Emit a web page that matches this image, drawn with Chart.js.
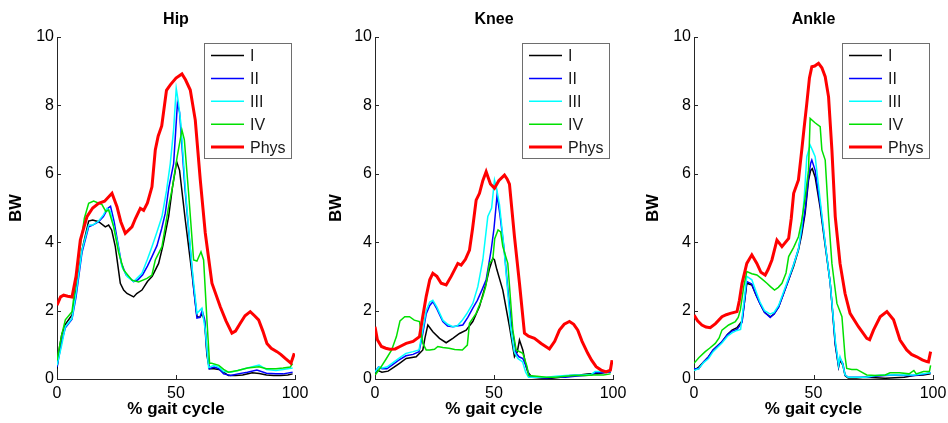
<!DOCTYPE html>
<html><head><meta charset="utf-8">
<script src="https://cdn.jsdelivr.net/npm/chart.js@4.4.1/dist/chart.umd.min.js"></script>
<style>
html,body{margin:0;padding:0;background:#fff;}
#wrap{position:relative;width:948px;height:423px;overflow:hidden;background:#fff;}
canvas{position:absolute;top:0;}
</style></head><body>
<div id="wrap">
<canvas id="c0" width="316" height="423" style="left:0px"></canvas>
<canvas id="c1" width="316" height="423" style="left:316px"></canvas>
<canvas id="c2" width="316" height="423" style="left:632px"></canvas>
</div>
<script>
// ---- categories / ticks ----
const panelTitles = ['Hip','Knee','Ankle'];
const seriesNames = ['I','II','III','IV','Phys'];
const xTicks = [0,50,100];
const yTicks = [0,2,4,6,8,10];

// ---- Hip ([% gait cycle, BW]) ----
const hipI = [[0,0.3],[1,0.9],[2,1.3],[3.5,1.6],[6.3,1.87],[8,2.6],[10.5,3.77],[13.3,4.62],[15,4.65],[17.5,4.6],[20.3,4.45],[21.7,4.5],[23,4.35],[24.5,3.87],[26.6,2.8],[28,2.6],[29.4,2.5],[32.2,2.4],[33.5,2.5],[35.7,2.6],[38,2.85],[40,3.0],[42.7,3.38],[44.5,3.9],[46.9,4.75],[48.5,5.6],[50.3,6.35],[51.5,6.1],[53.9,4.65],[56.7,3.09],[58.8,1.83],[60,1.8],[61,1.9],[62,1.7],[63,0.7],[64,0.3],[66,0.3],[68,0.28],[70,0.2],[72,0.1],[75,0.1],[78,0.12],[82,0.18],[85,0.16],[88,0.12],[91,0.1],[94,0.1],[97,0.12],[99,0.15]];
const hipII = [[0,0.35],[2,1.1],[3.5,1.5],[6.3,1.75],[8,2.4],[10.5,3.7],[13.3,4.45],[15,4.5],[17.5,4.6],[19.5,4.75],[21.5,5.0],[22.5,5.05],[24,4.6],[25.5,4.0],[27,3.4],[29,3.05],[32.2,2.85],[34,2.9],[36,3.05],[38,3.3],[39.9,3.58],[42,3.9],[44,4.4],[45.5,4.85],[47,5.6],[49,6.3],[50.6,8.06],[51.5,7.8],[53.7,5.62],[56,3.8],[57.5,2.6],[58.8,1.78],[60,1.8],[61,2.0],[62,1.75],[63,0.8],[64,0.3],[66,0.35],[68,0.3],[70,0.15],[73,0.1],[76,0.15],[80,0.2],[84,0.26],[88,0.17],[92,0.15],[95,0.15],[99,0.2]];
const hipIII = [[0,0.4],[2,1.0],[3.5,1.53],[6.3,1.77],[8,2.5],[10.5,3.77],[13.3,4.5],[15,4.5],[17.5,4.62],[19.5,4.8],[21,4.99],[22.4,4.9],[25.2,4.06],[27.3,3.28],[29.5,3.0],[32.2,2.85],[35.7,3.09],[38,3.5],[39.9,3.87],[42,4.3],[44.1,4.75],[46,5.5],[47.6,6.3],[49,7.3],[50.1,8.5],[51,8.1],[52,7.5],[54.1,5.4],[56.7,3.28],[58.8,1.92],[60.9,2.07],[62.3,1.43],[63.7,0.34],[66,0.4],[68,0.35],[70,0.22],[73,0.2],[76,0.25],[80,0.32],[84.9,0.41],[88,0.28],[92,0.25],[95,0.28],[99,0.32]];
const hipIV = [[0,0.55],[2,1.3],[3.5,1.73],[6.3,1.97],[8,2.9],[9.8,3.9],[11.5,4.7],[13.3,5.14],[15.4,5.2],[18.9,5.1],[20.5,4.9],[21.7,4.94],[23.8,4.45],[25.9,3.7],[28,3.19],[31.5,2.89],[34.3,2.84],[37.8,2.94],[39.9,3.04],[41.3,3.48],[44.1,3.87],[46.9,5.04],[48.5,5.6],[50.5,6.5],[52.5,7.28],[53.5,7.0],[55.3,5.43],[57.4,3.48],[58.8,3.45],[60.5,3.72],[61.6,3.48],[63,1.72],[64.1,0.46],[65,0.46],[68,0.4],[70,0.28],[72,0.2],[76,0.25],[80,0.32],[84.9,0.36],[88,0.3],[92,0.3],[95,0.32],[98,0.35],[99,0.45]];
const hipPhys = [[0,2.16],[1.5,2.4],[2.8,2.45],[4.5,2.42],[6.3,2.4],[8,3.0],[9.8,4.06],[12.6,4.75],[15,5.0],[17.5,5.14],[20,5.2],[23.1,5.43],[25.2,5.04],[26.8,4.6],[28.7,4.26],[31.5,4.45],[33,4.7],[35,4.99],[36.4,4.93],[38,5.15],[39.9,5.62],[41.3,6.7],[42.5,7.1],[44,7.4],[46,8.44],[47.6,8.6],[50,8.8],[52.5,8.92],[54,8.75],[56,8.45],[58.1,7.57],[60.2,5.82],[62.3,4.27],[65.1,2.8],[68.6,2.11],[71,1.7],[73.5,1.34],[75,1.4],[77,1.63],[79,1.85],[81.2,1.97],[83,1.85],[84.7,1.73],[86.5,1.4],[88.2,1.04],[90,0.9],[92.4,0.8],[94,0.72],[95.9,0.6],[98.3,0.46],[99.7,0.75]];

// ---- Knee ----
const kneeI = [[0,0.15],[0.9,0.26],[2.9,0.2],[5.5,0.23],[8,0.35],[10.3,0.46],[13.1,0.6],[17.3,0.65],[20.1,0.85],[21,1.2],[22.2,1.58],[24.3,1.38],[27.1,1.19],[29.9,1.06],[32.7,1.19],[35.5,1.33],[38.3,1.43],[41.1,1.68],[43.9,2.12],[46.7,2.8],[48,3.2],[49.5,3.53],[50.2,3.48],[51.2,3.2],[53.7,2.6],[56.5,1.53],[58.6,0.65],[59.8,0.8],[60.7,1.14],[62.1,0.85],[63.5,0.36],[64.2,0.2],[66,0.05],[70,0.03],[74,0.02],[78,0.05],[82,0.1],[86,0.12],[90,0.15],[94,0.15],[97,0.2],[99,0.2]];
const kneeII = [[0,0.2],[1.5,0.35],[3,0.3],[5,0.3],[7,0.4],[10,0.55],[13,0.68],[16,0.72],[18.5,0.8],[20,1.3],[21.5,1.9],[23,2.15],[24.3,2.26],[26,2.05],[28.5,1.68],[30.5,1.55],[32.7,1.53],[34.5,1.55],[36.9,1.58],[39,1.8],[41.1,2.07],[43,2.3],[44.9,2.6],[46.7,2.9],[48.8,3.77],[50,4.4],[51.3,5.38],[52.5,4.8],[54.3,3.77],[56,2.5],[57.3,1.63],[59.3,0.75],[60.5,0.65],[62.1,0.6],[63.9,0.3],[65,0.08],[68,0.05],[72,0.03],[76,0.05],[80,0.05],[84,0.08],[88,0.1],[91,0.12],[93,0.2],[95,0.18],[99,0.2]];
const kneeIII = [[0,0.2],[1.5,0.35],[3,0.32],[5,0.35],[7,0.45],[10,0.6],[13,0.75],[16,0.8],[18.5,0.85],[20,1.4],[21.5,2.0],[23,2.25],[24.3,2.3],[26,2.1],[28.5,1.72],[30.5,1.6],[32.7,1.53],[34.5,1.55],[36.5,1.7],[38.5,1.9],[41.1,2.21],[43.2,2.7],[45.3,3.48],[47.4,4.75],[49,5.0],[50.2,5.82],[51,5.6],[52.3,5.1],[54.1,3.9],[55.7,2.6],[57,1.5],[58.5,0.8],[60,0.6],[62,0.5],[63.3,0.2],[64.5,0.05],[68,0.05],[72,0.05],[76,0.08],[80,0.1],[84,0.12],[88,0.12],[91,0.14],[92.5,0.22],[95,0.22],[99,0.22]];
const kneeIV = [[0,0.1],[0.6,0.17],[2.5,0.35],[4.8,0.6],[7,0.85],[9,1.24],[10.5,1.7],[12.5,1.82],[14.5,1.82],[16.5,1.72],[18.7,1.68],[20.1,1.04],[21.5,0.85],[23,0.85],[25,0.87],[26.4,0.95],[28.5,0.92],[31.1,0.9],[33.5,0.86],[36.7,0.85],[38.8,0.99],[39.7,1.63],[42.5,1.92],[45.3,2.41],[46.5,2.7],[48.1,3.38],[49.5,3.5],[50.3,4.1],[51.7,4.36],[52.8,4.3],[53.7,3.87],[55.8,3.38],[57.9,1.43],[59.3,0.85],[62.1,0.75],[63.9,0.36],[64.5,0.1],[68,0.08],[72,0.05],[76,0.05],[80,0.08],[84,0.1],[88,0.1],[92,0.12],[96,0.12],[99,0.15]];
const kneePhys = [[0,1.53],[1,1.15],[2.7,0.95],[4.5,0.9],[6.2,0.87],[8.5,0.88],[10.5,0.95],[13.1,1.04],[16,1.1],[18.7,1.24],[20,1.8],[21.5,2.41],[23,2.9],[24.3,3.09],[26,3.0],[27.8,2.8],[29.9,2.75],[32,3.0],[34.8,3.38],[36.2,3.33],[38,3.5],[39.7,3.77],[41,4.4],[42.5,5.23],[43.9,5.43],[45.3,5.8],[46.7,6.06],[47.4,5.92],[48.5,5.7],[50.2,5.58],[52,5.8],[54.4,5.96],[55.5,5.85],[56.5,5.7],[58.6,4.16],[60.7,2.8],[62.8,1.34],[64.5,1.25],[67,1.19],[69.8,1.04],[73.3,0.88],[75.5,1.1],[77.5,1.43],[79.5,1.6],[81.7,1.68],[83.5,1.6],[85.2,1.43],[87,1.1],[89.4,0.75],[91,0.55],[92.9,0.36],[95,0.26],[97.1,0.21],[98.9,0.26],[99.6,0.55]];

// ---- Ankle ----
const ankleI = [[0,0.25],[2,0.35],[4,0.5],[6.1,0.65],[8,0.85],[11.7,1.09],[14,1.3],[15.9,1.43],[18,1.5],[20.1,1.7],[21.2,2.3],[22.1,2.8],[24.2,2.75],[26,2.45],[27.6,2.21],[29.5,1.95],[31.9,1.82],[33.5,1.9],[35.4,2.11],[37.5,2.5],[39.6,2.9],[41.7,3.3],[43.7,3.77],[45,4.2],[46.5,4.84],[47.9,5.8],[48.8,6.1],[49.5,6.15],[50.7,5.9],[52.8,5.0],[54.9,3.9],[57,2.8],[59.1,1.0],[60.5,0.35],[61.1,0.55],[62.3,0.4],[63.2,0.1],[64.5,0.03],[68,0.03],[72,0.05],[76,0.04],[80,0.02],[84,0.04],[88,0.05],[92,0.1],[96,0.12],[99,0.15]];
const ankleII = [[0,0.3],[2,0.3],[4,0.5],[6.1,0.65],[8,0.85],[11.7,1.09],[14,1.3],[15.9,1.4],[18,1.45],[20.1,1.65],[21.2,2.3],[22.1,2.85],[24.2,2.78],[26,2.45],[27.6,2.2],[29.5,1.95],[31.9,1.8],[33.5,1.9],[35.4,2.1],[37.5,2.5],[39.6,2.9],[41.7,3.35],[43.7,3.8],[45,4.3],[46.5,4.95],[47.9,5.9],[48.8,6.3],[49.3,6.4],[50.7,6.1],[52.8,5.1],[54.9,3.95],[57,2.8],[59.1,1.05],[60.5,0.38],[61.1,0.6],[62.3,0.45],[63.2,0.12],[64.5,0.05],[68,0.05],[72,0.05],[76,0.08],[80,0.1],[84,0.12],[88,0.1],[92,0.1],[96,0.14],[99,0.18]];
const ankleIII = [[0,0.25],[2,0.3],[4,0.48],[6.1,0.6],[8,0.8],[11.7,1.05],[14,1.25],[15.9,1.35],[18,1.42],[19.5,1.45],[20.8,2.2],[22.1,3.0],[24.2,2.9],[26,2.55],[27.6,2.25],[29.5,2.0],[31.9,1.9],[33.5,1.95],[35.4,2.15],[37.5,2.55],[39.6,2.95],[41.7,3.35],[43.7,3.8],[45,4.4],[46.2,5.4],[47.2,6.5],[48.6,6.84],[49.5,6.7],[50.7,6.5],[52.8,5.23],[54.9,3.97],[57,2.8],[59.1,1.14],[60.5,0.41],[61.1,0.65],[62.3,0.41],[63.2,0.12],[64.5,0.05],[68,0.05],[72,0.05],[76,0.1],[80,0.12],[84,0.12],[88,0.12],[92,0.12],[96,0.15],[99,0.18]];
const ankleIV = [[0,0.46],[2,0.62],[4.7,0.8],[6.5,0.9],[8.9,1.04],[10.5,1.2],[11.7,1.43],[14.5,1.58],[17.3,1.68],[18.5,1.8],[19.4,2.02],[20.8,2.7],[22.1,3.14],[24.2,3.08],[26.3,3.04],[28.5,2.92],[30.5,2.8],[32,2.7],[33.7,2.6],[35.3,2.68],[36.8,2.8],[38.5,3.1],[39.6,3.58],[41.7,3.85],[43.7,4.16],[45,4.6],[46.5,5.3],[47.9,6.1],[48.6,7.62],[50.5,7.5],[52.8,7.38],[53.5,6.7],[54.9,6.4],[56.3,4.75],[57.7,3.38],[59.8,2.21],[61.9,1.82],[63.2,0.65],[63.9,0.31],[66,0.28],[68.1,0.28],[72.3,0.12],[76,0.1],[80,0.12],[82,0.18],[86,0.18],[90,0.15],[92,0.25],[93,0.15],[96,0.22],[98.5,0.22],[99,0.4]];
const anklePhys = [[0,1.87],[1.5,1.7],[3.3,1.58],[5,1.52],[6.8,1.5],[9,1.62],[11.7,1.82],[13.5,1.88],[15.2,1.92],[18,1.97],[19,2.3],[20.1,2.8],[22.1,3.38],[24.2,3.63],[26.3,3.38],[28,3.12],[29.8,3.04],[31,3.2],[32.6,3.48],[34.7,4.06],[36.8,3.87],[39.6,4.11],[40.7,4.7],[41.7,5.43],[43.7,5.82],[45.1,6.7],[46,7.3],[47.2,8.06],[48.3,8.8],[49.3,9.13],[50.5,9.15],[52.1,9.23],[53.5,9.1],[54.9,8.84],[56.3,8.25],[57.7,6.7],[59.1,4.75],[61.1,3.38],[63.2,2.5],[65.3,1.92],[68.8,1.53],[72.3,1.19],[73.5,1.15],[75.1,1.43],[77.9,1.82],[80.7,1.97],[83.5,1.73],[86.2,1.14],[89,0.85],[91,0.72],[93.2,0.65],[95.5,0.56],[97.4,0.51],[98.1,0.5],[99,0.8]];

// ---- styling ----
const seriesColors = ['#000000','#0000ff','#00ffff','#00e000','#ff0000'];
const seriesWidths = [1.5,1.5,1.5,1.5,3];
const FONT = '"Liberation Sans", Arial, Helvetica, sans-serif';
Chart.defaults.font.family = FONT;
Chart.defaults.color = '#000';

const panelData = [
  [hipI, hipII, hipIII, hipIV, hipPhys],
  [kneeI, kneeII, kneeIII, kneeIV, kneePhys],
  [ankleI, ankleII, ankleIII, ankleIV, anklePhys]
];
const panelLayout = [
  {axisW:57, padRight:21, bwPad:6.5},
  {axisW:59, padRight:19, bwPad:10.5},
  {axisW:62, padRight:15, bwPad:11.8}
];

const decor = {
  id: 'decor',
  afterDraw(chart, args, opts) {
    const {ctx, chartArea: a} = chart;
    const xs = chart.scales.x, ys = chart.scales.y;
    ctx.save();
    // inward tick marks
    ctx.strokeStyle = '#262626';
    ctx.lineWidth = 1;
    ctx.beginPath();
    xTicks.forEach(v => {
      const px = Math.round(xs.getPixelForValue(v)) + 0.5;
      ctx.moveTo(px, a.bottom); ctx.lineTo(px, a.bottom - 4);
    });
    yTicks.forEach(v => {
      const py = Math.round(ys.getPixelForValue(v)) + 0.5;
      ctx.moveTo(a.left, py); ctx.lineTo(a.left + 4, py);
    });
    ctx.stroke();
    // panel title
    ctx.fillStyle = '#000';
    ctx.font = 'bold 16px ' + FONT;
    ctx.textAlign = 'center';
    ctx.textBaseline = 'alphabetic';
    ctx.fillText(opts.title, (a.left + a.right) / 2, 24);
    // legend box
    const bw = 87, bh = 115;
    const bx = Math.round(a.right - 4.5 - bw), by = Math.round(a.top + 6);
    ctx.fillStyle = '#fff';
    ctx.fillRect(bx, by, bw, bh);
    ctx.strokeStyle = '#6e6e6e';
    ctx.strokeRect(bx + 0.5, by + 0.5, bw, bh);
    ctx.font = '16px ' + FONT;
    ctx.textAlign = 'left';
    ctx.textBaseline = 'middle';
    chart.data.datasets.forEach((ds, i) => {
      const cy = by + 12.5 + i * 22.9;
      ctx.strokeStyle = ds.borderColor;
      ctx.lineWidth = ds.borderWidth;
      ctx.beginPath();
      ctx.moveTo(bx + 7, cy); ctx.lineTo(bx + 40, cy);
      ctx.stroke();
      ctx.fillStyle = '#1a1a1a';
      ctx.fillText(ds.label, bx + 46, cy + 1);
    });
    ctx.restore();
  }
};

panelTitles.forEach((t, p) => {
  const L = panelLayout[p];
  const datasets = panelData[p].map((pts, i) => ({
    label: seriesNames[i],
    data: pts.map(q => ({x: q[0], y: q[1]})),
    borderColor: seriesColors[i],
    backgroundColor: seriesColors[i],
    borderWidth: seriesWidths[i],
    pointRadius: 0,
    tension: 0,
    fill: false,
    order: 4 - i
  }));
  new Chart(document.getElementById('c' + p), {
    type: 'line',
    data: {datasets},
    options: {
      responsive: false,
      animation: false,
      events: [],
      layout: {padding: {left: 0, right: L.padRight, top: 37, bottom: 0}},
      plugins: {legend: {display: false}, tooltip: {enabled: false}, title: {display: false}, decor: {title: t}},
      scales: {
        x: {
          type: 'linear', min: 0, max: 100,
          afterBuildTicks: s => { s.ticks = xTicks.map(v => ({value: v})); },
          afterFit: s => { s.height = 44; s.paddingLeft = 0; s.paddingRight = 0; s.paddingTop = 0; s.paddingBottom = 0; },
          grid: {display: true, drawOnChartArea: false, drawTicks: false},
          border: {display: true, color: '#262626', width: 1},
          ticks: {padding: 5, maxRotation: 0, autoSkip: false, color: '#000', font: {size: 16}},
          title: {display: true, text: '% gait cycle', color: '#000', font: {size: 17, weight: 'bold'}, padding: {top: 0, bottom: 3}}
        },
        y: {
          type: 'linear', min: 0, max: 10,
          afterBuildTicks: s => { s.ticks = yTicks.map(v => ({value: v})); },
          afterFit: s => { s.width = L.axisW; s.paddingLeft = 0; s.paddingRight = 0; s.paddingTop = 0; s.paddingBottom = 0; },
          grid: {display: true, drawOnChartArea: false, drawTicks: false},
          border: {display: true, color: '#262626', width: 1},
          ticks: {padding: 3, autoSkip: false, color: '#000', font: {size: 16}},
          title: {display: true, text: 'BW', color: '#000', font: {size: 16.5, weight: 'bold'}, padding: {top: L.bwPad, bottom: 0}}
        }
      }
    },
    plugins: [decor]
  });
});
</script>
</body></html>
